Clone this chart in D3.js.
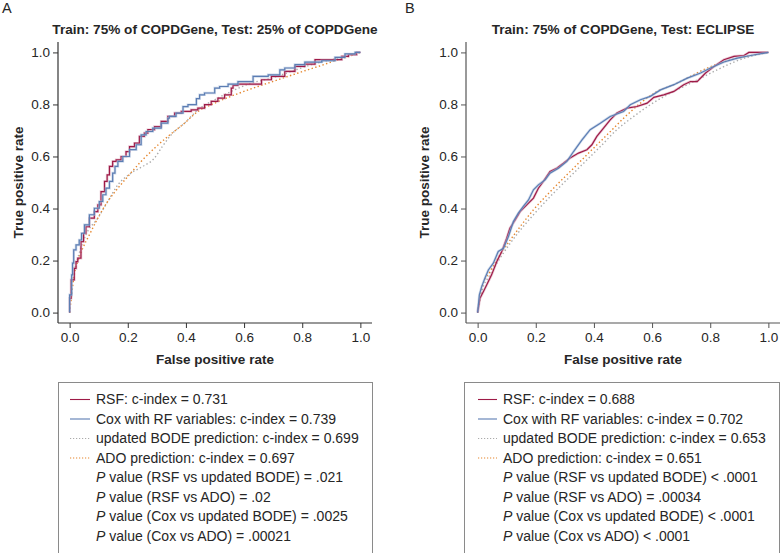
<!DOCTYPE html>
<html>
<head>
<meta charset="utf-8">
<script src="https://cdn.jsdelivr.net/npm/d3@7/dist/d3.min.js"></script>
<style>
  html, body { margin: 0; padding: 0; background: #fff; }
  svg { display: block; font-family: "Liberation Sans", Arial, Helvetica, sans-serif; }
</style>
</head>
<body>
<svg id="chart" width="781" height="553"></svg>
<script>
// ---------------- DATA ----------------
const panelLabels = ["A", "B"];
const panelTitles = ["Train: 75% of COPDGene, Test: 25% of COPDGene", "Train: 75% of COPDGene, Test: ECLIPSE"];
const xTicks = [0, 0.2, 0.4, 0.6, 0.8, 1.0];
const yTicks = [0, 0.2, 0.4, 0.6, 0.8, 1.0];
const seriesNames = ["RSF", "Cox", "BODE", "ADO"];

// Panel A ROC points [FPR, TPR]
const rsfA = [[0,0],[0.005,0.055],[0.016,0.126],[0.022,0.17],[0.028,0.196],[0.039,0.209],[0.048,0.273],[0.056,0.305],[0.068,0.33],[0.085,0.363],[0.097,0.388],[0.108,0.414],[0.12,0.465],[0.129,0.504],[0.137,0.529],[0.148,0.562],[0.16,0.581],[0.177,0.587],[0.194,0.6],[0.206,0.619],[0.223,0.638],[0.24,0.651],[0.257,0.677],[0.269,0.69],[0.292,0.703],[0.315,0.715],[0.338,0.735],[0.361,0.754],[0.384,0.767],[0.418,0.773],[0.441,0.779],[0.464,0.786],[0.487,0.799],[0.51,0.812],[0.533,0.824],[0.556,0.837],[0.562,0.863],[0.579,0.873],[0.614,0.878],[0.66,0.878],[0.694,0.895],[0.74,0.908],[0.775,0.927],[0.809,0.946],[0.844,0.955],[0.89,0.972],[0.936,0.972],[0.959,0.985],[0.987,0.991],[1,1]];
const coxA = [[0,0],[0.007,0.068],[0.01,0.145],[0.014,0.19],[0.022,0.241],[0.033,0.26],[0.041,0.279],[0.051,0.305],[0.068,0.337],[0.085,0.376],[0.102,0.401],[0.114,0.427],[0.125,0.453],[0.137,0.478],[0.148,0.504],[0.156,0.536],[0.166,0.562],[0.183,0.581],[0.206,0.6],[0.229,0.626],[0.246,0.645],[0.263,0.683],[0.286,0.696],[0.315,0.709],[0.338,0.728],[0.343,0.747],[0.366,0.754],[0.39,0.767],[0.407,0.792],[0.436,0.799],[0.447,0.822],[0.464,0.837],[0.499,0.844],[0.516,0.863],[0.545,0.869],[0.579,0.878],[0.631,0.888],[0.683,0.908],[0.723,0.914],[0.74,0.933],[0.775,0.94],[0.809,0.953],[0.867,0.963],[0.913,0.968],[0.947,0.981],[0.959,0.994],[0.982,0.994],[1,1]];
const bodeA = [[0,0],[0.005,0.068],[0.014,0.145],[0.028,0.209],[0.056,0.299],[0.097,0.363],[0.131,0.427],[0.166,0.491],[0.211,0.536],[0.252,0.562],[0.292,0.594],[0.315,0.632],[0.349,0.683],[0.395,0.728],[0.441,0.779],[0.499,0.818],[0.556,0.85],[0.625,0.882],[0.694,0.901],[0.763,0.927],[0.832,0.953],[0.901,0.972],[0.959,0.988],[1,1]];
const adoA = [[0,0],[0.007,0.068],[0.016,0.145],[0.028,0.196],[0.045,0.247],[0.068,0.299],[0.097,0.363],[0.131,0.427],[0.166,0.478],[0.2,0.523],[0.246,0.581],[0.292,0.632],[0.338,0.677],[0.395,0.728],[0.441,0.773],[0.499,0.805],[0.568,0.837],[0.648,0.869],[0.717,0.895],[0.786,0.921],[0.855,0.946],[0.924,0.972],[0.97,0.988],[1,1]];

// Panel B ROC points [FPR, TPR]
const rsfB = [[0,0],[0.008,0.055],[0.02,0.081],[0.031,0.106],[0.048,0.145],[0.066,0.196],[0.083,0.235],[0.1,0.286],[0.111,0.324],[0.129,0.356],[0.146,0.388],[0.169,0.414],[0.192,0.44],[0.209,0.478],[0.226,0.504],[0.249,0.542],[0.272,0.555],[0.295,0.574],[0.318,0.594],[0.347,0.613],[0.376,0.626],[0.393,0.645],[0.41,0.677],[0.433,0.709],[0.456,0.741],[0.479,0.767],[0.514,0.786],[0.548,0.792],[0.583,0.805],[0.606,0.827],[0.64,0.837],[0.675,0.85],[0.709,0.876],[0.732,0.888],[0.755,0.888],[0.784,0.921],[0.813,0.946],[0.847,0.972],[0.882,0.985],[0.916,0.988],[0.933,1],[1,1]];
const coxB = [[0,0],[0.006,0.068],[0.014,0.1],[0.025,0.132],[0.037,0.164],[0.054,0.19],[0.071,0.235],[0.089,0.247],[0.106,0.292],[0.123,0.35],[0.14,0.382],[0.157,0.408],[0.175,0.433],[0.192,0.472],[0.209,0.491],[0.232,0.51],[0.249,0.536],[0.278,0.555],[0.307,0.581],[0.33,0.619],[0.359,0.664],[0.387,0.703],[0.422,0.728],[0.456,0.754],[0.502,0.773],[0.525,0.799],[0.56,0.818],[0.594,0.831],[0.629,0.856],[0.675,0.876],[0.721,0.901],[0.767,0.921],[0.801,0.94],[0.847,0.963],[0.893,0.978],[0.939,0.988],[1,1]];
const bodeB = [[0,0],[0.014,0.081],[0.043,0.145],[0.077,0.209],[0.134,0.299],[0.192,0.376],[0.261,0.459],[0.33,0.536],[0.376,0.587],[0.422,0.638],[0.479,0.703],[0.537,0.754],[0.594,0.799],[0.652,0.837],[0.709,0.869],[0.767,0.901],[0.824,0.933],[0.882,0.963],[0.939,0.985],[1,1]];
const adoB = [[0,0],[0.014,0.094],[0.043,0.158],[0.077,0.222],[0.134,0.312],[0.192,0.395],[0.261,0.478],[0.33,0.555],[0.387,0.619],[0.445,0.683],[0.502,0.747],[0.56,0.805],[0.617,0.85],[0.675,0.876],[0.732,0.908],[0.79,0.94],[0.859,0.968],[0.928,0.985],[1,1]];

const legendA = ["RSF: c-index = 0.731", "Cox with RF variables: c-index = 0.739", "updated BODE prediction: c-index = 0.699", "ADO prediction: c-index = 0.697"];
const pvalsA = [" value (RSF vs updated BODE) = .021", " value (RSF vs ADO) = .02", " value (Cox vs updated BODE) = .0025", " value (Cox vs ADO) = .00021"];
const legendB = ["RSF: c-index = 0.688", "Cox with RF variables: c-index = 0.702", "updated BODE prediction: c-index = 0.653", "ADO prediction: c-index = 0.651"];
const pvalsB = [" value (RSF vs updated BODE) < .0001", " value (RSF vs ADO) = .00034", " value (Cox vs updated BODE) < .0001", " value (Cox vs ADO) < .0001"];

// ---------------- STYLE ----------------
const colors = { RSF: "#9e1a47", Cox: "#5b7db3", BODE: "#ababab", ADO: "#e5862d" };
const halo = { RSF: "#d79ab0", Cox: "#a9bddb" };
const textColor = "#262626";

const svg = d3.select("#chart");

const panels = [
  { label: panelLabels[0], title: panelTitles[0], left: 58, right: 372, labelX: 2, series: [bodeA, adoA, rsfA, coxA], legend: legendA, pvals: pvalsA, step: true, axisColor: "#333", yTitleX: 23, legendBox: [58, 373], legendLine: [70, 90], legendText: 96 },
  { label: panelLabels[1], title: panelTitles[1], left: 466, right: 780, labelX: 405, series: [bodeB, adoB, rsfB, coxB], legend: legendB, pvals: pvalsB, step: false, axisColor: "#555", yTitleX: 429, legendBox: [464, 780], legendLine: [478, 497], legendText: 503 }
];
const seriesOrder = ["BODE", "ADO", "RSF", "Cox"];
const plotTop = 42, plotBottom = 323;

panels.forEach(p => {
  const padX = (p.right - p.left) * 0.04 / 1.08;
  const padY = (plotBottom - plotTop) * 0.04 / 1.08;
  const x = d3.scaleLinear().domain([0, 1]).range([p.left + padX, p.right - padX]);
  const y = d3.scaleLinear().domain([0, 1]).range([plotBottom - padY, plotTop + padY]);
  const g = svg.append("g");

  // panel letter
  g.append("text").attr("x", p.labelX).attr("y", 13).attr("font-size", 14.5).attr("fill", textColor).text(p.label);
  // title
  g.append("text").attr("x", (p.left + p.right) / 2).attr("y", 34).attr("text-anchor", "middle")
    .attr("font-size", 13.6).attr("font-weight", "bold").attr("fill", textColor).text(p.title);

  // axes (L-shaped frame)
  const xAxis = d3.axisBottom(x).tickValues(xTicks).tickFormat(d3.format(".1f")).tickSizeOuter(0).tickSize(5).tickPadding(4);
  const yAxis = d3.axisLeft(y).tickValues(yTicks).tickFormat(d3.format(".1f")).tickSizeOuter(0).tickSize(5).tickPadding(3);
  const gx = g.append("g").attr("transform", `translate(0,${plotBottom})`).call(xAxis);
  const gy = g.append("g").attr("transform", `translate(${p.left},0)`).call(yAxis);
  [gx, gy].forEach(ax => {
    ax.select(".domain").remove();
    ax.selectAll("line").attr("stroke", p.axisColor).attr("stroke-width", 1);
    ax.selectAll("text").attr("font-size", 13.5).attr("fill", textColor)
      .attr("font-family", "'Liberation Sans', Arial, sans-serif");
  });
  g.append("line").attr("x1", p.left).attr("x2", p.right).attr("y1", plotBottom).attr("y2", plotBottom).attr("stroke", p.axisColor).attr("stroke-width", 1.2);
  g.append("line").attr("x1", p.left).attr("x2", p.left).attr("y1", plotTop).attr("y2", plotBottom).attr("stroke", p.axisColor).attr("stroke-width", 1.2);

  // axis titles
  g.append("text").attr("x", (p.left + p.right) / 2).attr("y", 364).attr("text-anchor", "middle")
    .attr("font-size", 13.5).attr("font-weight", "bold").attr("fill", textColor).text("False positive rate");
  g.append("text").attr("transform", `translate(${p.yTitleX},${(plotTop + plotBottom) / 2}) rotate(-90)`).attr("text-anchor", "middle")
    .attr("font-size", 13.5).attr("font-weight", "bold").attr("fill", textColor).text("True positive rate");

  // curves
  const lineStep = d3.line().x(d => x(d[0])).y(d => y(d[1])).curve(p.step ? d3.curveStepBefore : d3.curveLinear);
  const lineSmooth = d3.line().x(d => x(d[0])).y(d => y(d[1])).curve(d3.curveMonotoneX);
  p.series.forEach((data, i) => {
    const name = seriesOrder[i];
    if (name === "BODE" || name === "ADO") {
      g.append("path").datum(data).attr("d", lineSmooth).attr("fill", "none")
        .attr("stroke", colors[name]).attr("stroke-width", 1.4).attr("stroke-dasharray", "1.4,2.4");
    } else {
      g.append("path").datum(data).attr("d", lineStep).attr("fill", "none")
        .attr("stroke", halo[name]).attr("stroke-width", 2.6).attr("stroke-opacity", 0.55);
      g.append("path").datum(data).attr("d", lineStep).attr("fill", "none")
        .attr("stroke", colors[name]).attr("stroke-width", 1.2);
    }
  });

  // legend box
  const lb = p.legendBox;
  g.append("rect").attr("x", lb[0] + 0.5).attr("y", 382.5).attr("width", lb[1] - lb[0] - 1).attr("height", 175)
    .attr("fill", "none").attr("stroke", "#8a8a8a").attr("stroke-width", 1);
  const rowY = i => 404 + i * 19.5;
  p.legend.forEach((t, i) => {
    const name = seriesNames[i];
    const ly = rowY(i) - 4.5;
    const ln = g.append("line").attr("x1", p.legendLine[0]).attr("x2", p.legendLine[1]).attr("y1", ly).attr("y2", ly)
      .attr("stroke", colors[name]).attr("stroke-width", 1.1);
    if (name === "BODE" || name === "ADO") ln.attr("stroke-dasharray", "1.2,1.8");
    g.append("text").attr("x", p.legendText).attr("y", rowY(i)).attr("font-size", 14).attr("fill", textColor).text(t);
  });
  p.pvals.forEach((t, i) => {
    const tx = g.append("text").attr("x", p.legendText).attr("y", rowY(i + 4)).attr("font-size", 14).attr("fill", textColor);
    tx.append("tspan").attr("font-style", "italic").text("P");
    tx.append("tspan").text(t);
  });
});
</script>
</body>
</html>
